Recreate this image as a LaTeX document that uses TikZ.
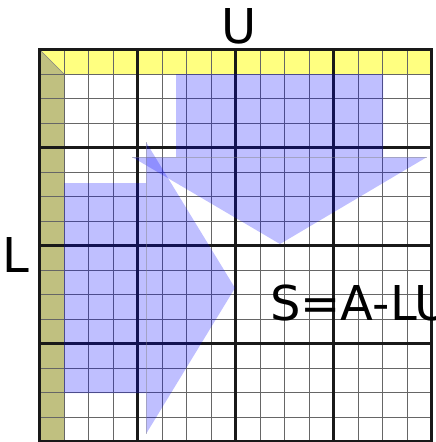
\documentclass[tikz,border=0pt]{standalone}
\usepackage{fontspec}
\newfontfamily\dejavu{DejaVu Sans}
\definecolor{olivefill}{RGB}{192,192,128}
\definecolor{yellowfill}{RGB}{255,255,128}
\definecolor{thickline}{RGB}{25,25,25}
\begin{document}
\begin{tikzpicture}[x=1pt,y=-1pt,
  thin grid/.style={black!60, line width=0.75pt},
  thick grid/.style={thickline, line width=2.6pt},
  bluearrow/.style={fill=blue, fill opacity=0.25},
  seam/.style={gray, line width=0.8pt, opacity=0.45},
  biglabel/.style={font=\dejavu\fontsize{48}{48}\selectfont, inner sep=0pt, text=black}]
\useasboundingbox (0,0) rectangle (436,442);
\def\gox{39.5}
\def\goy{49.5}
\def\gcell{24.5}
% coloured border cells
\fill[olivefill] (39.5,49.5) rectangle (64,441.5);
\fill[yellowfill] (64,49.5) rectangle (431.5,74);
\fill[yellowfill] (39.5,49.5) -- (64,49.5) -- (64,74) -- cycle;
\draw[gray, line width=0.6pt] (39.5,49.5) -- (64,74);
% thin grid lines
\foreach \i in {1,2,3,5,6,7,9,10,11,13,14,15}{
  \draw[thin grid] ({\gox+\i*\gcell},\goy) -- ({\gox+\i*\gcell},441.5);
  \draw[thin grid] (\gox,{\goy+\i*\gcell}) -- (431.5,{\goy+\i*\gcell});
}
% thick lines
\foreach \i in {0,4,8,12,16}{
  \draw[thick grid] ({\gox+\i*\gcell},{\goy-1.3}) -- ({\gox+\i*\gcell},443);
  \draw[thick grid] ({\gox-1.3},{\goy+\i*\gcell}) -- (433,{\goy+\i*\gcell});
}
% blue arrows
\fill[bluearrow] (176,74) -- (383,74) -- (383,157) -- (427,157) -- (280,244) -- (132,157) -- (176,157) -- cycle;
\fill[bluearrow] (64,183) -- (146,183) -- (146,142) -- (235,288) -- (146,434) -- (146,393) -- (64,393) -- cycle;
\draw[seam] (132,157) -- (427,157);
\draw[seam] (146,142) -- (146,434);
% labels
\node[biglabel, anchor=base] (ulab) at (239,43) {U};
\node[biglabel, anchor=base west] (llab) at (2.5,272) {L};
\node[biglabel, anchor=base west] (slab) at (270,320) {S=A-LU};
\end{tikzpicture}
\end{document}
